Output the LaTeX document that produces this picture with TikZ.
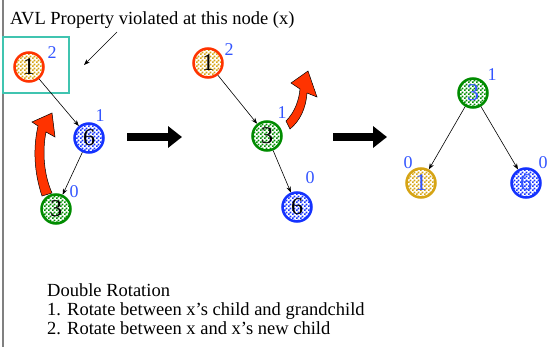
\documentclass[tikz,border=0pt]{standalone}
\usepackage{fontspec}
\setmainfont{Liberation Serif}
\usetikzlibrary{patterns,arrows.meta}

\definecolor{avlred}{RGB}{255,51,0}
\definecolor{avlgold}{RGB}{214,164,20}
\definecolor{avlgreen}{RGB}{0,140,0}
\definecolor{avlblue}{RGB}{20,50,255}
\definecolor{avlnum}{RGB}{51,85,255}
\definecolor{avlteal}{RGB}{64,196,176}

% small checks for the key circles
\pgfdeclarepatternformonly{smallchecks}{\pgfpointorigin}{\pgfqpoint{4pt}{4pt}}{\pgfqpoint{4pt}{4pt}}
{
	\pgfpathrectangle{\pgfpointorigin}{\pgfqpoint{2.05pt}{2.05pt}}
	\pgfpathrectangle{\pgfqpoint{2pt}{2pt}}{\pgfqpoint{2.05pt}{2.05pt}}
	\pgfusepath{fill}
}

\begin{document}
\begin{tikzpicture}[x=1pt,y=-1pt,
		key/.style={circle,draw,minimum size=29pt,inner sep=0pt,line width=2.5pt,
			pattern=smallchecks,font=\fontsize{24}{24}\selectfont},
		one/.style={key,draw=avlred,pattern color=avlgold},
		six/.style={key,draw=avlblue,pattern color=avlblue},
		three/.style={key,draw=avlgreen,pattern color=avlgreen},
		bal/.style={text=avlnum,font=\fontsize{18}{18}\selectfont,inner sep=0pt},
		txt/.style={anchor=base west,inner sep=0pt,font=\fontsize{18.5}{18.5}\selectfont},
		link/.style={-{Stealth[length=6pt,width=4.5pt]},line width=0.6pt},
		bigarrow/.style={line width=8pt,-{Triangle[length=14pt,width=21pt]}},
		swing/.style={fill=avlred,draw=black,line width=0.5pt}
	]
		\useasboundingbox (0,0) rectangle (547,347);
		\draw[gray,line width=1.2pt] (3,0) -- (3,347);

		\node[txt] (title) at (10,25) {AVL Property violated at this node (x)};
		\draw[draw=avlteal,line width=1.2pt] (3,37) rectangle (69,93);
		\coordinate (p) at (117,32);
		\coordinate (q) at (84,65);
		\draw[link] (p) -- (q);

		% before: x = 1, child 6, grandchild 3
		\draw[swing] (42,196) .. controls (34,172) and (33,148) .. (38,126) -- (32,122) -- (52,113)
			-- (55,137) -- (46,132) .. controls (42,152) and (44,175) .. (52,193) -- cycle;
		\node[one] (a1) at (29,67) {1};
		\node[six] (a6) at (89,138) {6};
		\node[three] (a3) at (56,209) {3};
		\node[bal] (a1h) at ([shift={(23,-14)}]a1) {2};
		\node[bal] (a6h) at ([shift={(11,-22)}]a6) {1};
		\node[bal] (a3h) at ([shift={(18,-17)}]a3) {0};
		\draw[link] (a1) -- (a6);
		\draw[link] (a6) -- (a3);

		\coordinate (s1) at (127,137);
		\coordinate (t1) at (182,137);
		\draw[bigarrow] (s1) -- (t1);

		% after the first rotation
		\draw[swing] (286,121) .. controls (295,112) and (299,100) .. (300,89) -- (291,83) -- (308,71)
			-- (317,97) -- (307,93) .. controls (306,108) and (300,121) .. (290,129) -- cycle;
		\node[one] (b1) at (208,63) {1};
		\node[three] (b3) at (267,136) {3};
		\node[six] (b6) at (297,207) {6};
		\node[bal] (b1h) at ([shift={(21,-13)}]b1) {2};
		\node[bal] (b3h) at ([shift={(15,-23)}]b3) {1};
		\node[bal] (b6h) at ([shift={(13,-29)}]b6) {0};
		\draw[link] (b1) -- (b3);
		\draw[link] (b3) -- (b6);

		\coordinate (s2) at (333,137);
		\coordinate (t2) at (387,137);
		\draw[bigarrow] (s2) -- (t2);

		% balanced again
		\node[three,text=avlnum] (c3) at (473,93) {3};
		\node[one,draw=avlgold,text=avlnum] (c1) at (421,183) {1};
		\node[six,text=avlnum] (c6) at (526,183) {6};
		\node[bal] (c3h) at ([shift={(19,-18)}]c3) {1};
		\node[bal] (c1h) at ([shift={(-13,-20)}]c1) {0};
		\node[bal] (c6h) at ([shift={(17,-20)}]c6) {0};
		\draw[link] (c3) -- (c1);
		\draw[link] (c3) -- (c6);

		\node[txt] (dbl) at (47,297) {Double Rotation};
		\node[txt] (step1) at (47,316) {1. Rotate between x’s child and grandchild};
		\node[txt] (step2) at (47,335) {2. Rotate between x and x’s new child};
	\end{tikzpicture}
\end{document}
